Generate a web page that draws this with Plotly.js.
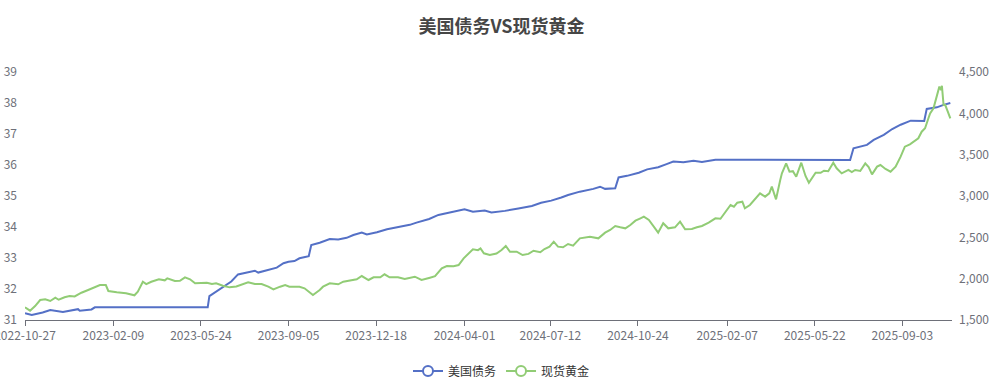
<!DOCTYPE html>
<html>
<head>
<meta charset="utf-8">
<script src="https://cdn.plot.ly/plotly-3.0.1.min.js"></script>
<style>html,body{margin:0;padding:0;background:#fff;}#chart{width:1003px;height:379px;}</style>
</head>
<body>
<div id="chart"></div>
<script>
const seriesNames = ["美国债务", "现货黄金"];
const xTickVals = ["2022-10-27","2023-02-09","2023-05-24","2023-09-05","2023-12-18","2024-04-01","2024-07-12","2024-10-24","2025-02-07","2025-05-22","2025-09-03"];
const xTickLabels = ["2022-10-27","2023-02-09","2023-05-24","2023-09-05","2023-12-18","2024-04-01","2024-07-12","2024-10-24","2025-02-07","2025-05-22","2025-09-03"];

const debtDates = ["2022-10-27","2022-11-04","2022-11-17","2022-11-26","2022-12-11","2022-12-19","2022-12-29","2022-12-31","2023-01-14","2023-01-18","2023-03-01","2023-04-15","2023-06-01","2023-06-03","2023-06-17","2023-06-29","2023-07-07","2023-07-19","2023-07-27","2023-07-31","2023-08-12","2023-08-22","2023-08-30","2023-09-05","2023-09-12","2023-09-18","2023-09-29","2023-10-02","2023-10-12","2023-10-24","2023-11-03","2023-11-13","2023-11-21","2023-12-01","2023-12-07","2023-12-19","2023-12-31","2024-01-11","2024-01-27","2024-02-04","2024-02-14","2024-02-19","2024-03-01","2024-03-17","2024-04-01","2024-04-11","2024-04-25","2024-05-03","2024-05-19","2024-06-04","2024-06-20","2024-07-01","2024-07-13","2024-07-25","2024-08-02","2024-08-16","2024-09-01","2024-09-09","2024-09-15","2024-09-27","2024-10-01","2024-10-11","2024-10-25","2024-11-04","2024-11-17","2024-11-27","2024-12-05","2024-12-17","2024-12-29","2025-01-08","2025-01-18","2025-01-24","2025-03-15","2025-05-01","2025-07-03","2025-07-07","2025-07-15","2025-07-23","2025-07-31","2025-08-12","2025-08-22","2025-09-01","2025-09-13","2025-09-25","2025-09-29","2025-10-02","2025-10-14","2025-10-22","2025-10-30"];
const debtValues = [31.22,31.16,31.24,31.32,31.26,31.30,31.35,31.30,31.34,31.41,31.41,31.41,31.41,31.77,32.02,32.24,32.47,32.54,32.59,32.53,32.61,32.69,32.83,32.88,32.90,32.99,33.06,33.42,33.49,33.61,33.60,33.65,33.74,33.82,33.76,33.83,33.93,33.99,34.07,34.14,34.23,34.26,34.39,34.49,34.57,34.49,34.53,34.47,34.52,34.60,34.68,34.78,34.85,34.95,35.03,35.14,35.23,35.30,35.23,35.25,35.60,35.65,35.75,35.86,35.93,36.03,36.11,36.09,36.14,36.10,36.15,36.17,36.17,36.16,36.16,36.54,36.59,36.65,36.81,36.97,37.16,37.30,37.43,37.42,37.42,37.81,37.86,37.94,38.00];

const goldDates = ["2022-10-27","2022-11-02","2022-11-08","2022-11-14","2022-11-20","2022-11-26","2022-12-02","2022-12-06","2022-12-13","2022-12-19","2022-12-25","2023-01-02","2023-01-10","2023-01-18","2023-01-24","2023-01-31","2023-02-03","2023-02-13","2023-02-24","2023-03-06","2023-03-10","2023-03-16","2023-03-20","2023-03-26","2023-04-04","2023-04-11","2023-04-14","2023-04-23","2023-04-29","2023-05-05","2023-05-11","2023-05-17","2023-05-25","2023-05-31","2023-06-06","2023-06-11","2023-06-19","2023-06-27","2023-07-05","2023-07-12","2023-07-19","2023-07-27","2023-08-04","2023-08-12","2023-08-18","2023-08-26","2023-09-01","2023-09-06","2023-09-18","2023-09-24","2023-10-04","2023-10-12","2023-10-16","2023-10-24","2023-11-03","2023-11-09","2023-11-17","2023-11-25","2023-12-01","2023-12-09","2023-12-15","2023-12-23","2023-12-28","2024-01-03","2024-01-13","2024-01-21","2024-02-02","2024-02-10","2024-02-20","2024-02-26","2024-03-05","2024-03-11","2024-03-19","2024-03-25","2024-03-31","2024-04-06","2024-04-11","2024-04-17","2024-04-20","2024-04-24","2024-05-01","2024-05-09","2024-05-15","2024-05-20","2024-05-25","2024-06-02","2024-06-09","2024-06-16","2024-06-22","2024-06-30","2024-07-05","2024-07-11","2024-07-16","2024-07-21","2024-07-27","2024-08-02","2024-08-08","2024-08-16","2024-08-28","2024-09-07","2024-09-15","2024-09-21","2024-09-27","2024-10-03","2024-10-09","2024-10-15","2024-10-21","2024-10-27","2024-10-31","2024-11-06","2024-11-12","2024-11-17","2024-11-23","2024-11-29","2024-12-07","2024-12-13","2024-12-19","2024-12-27","2025-01-02","2025-01-08","2025-01-16","2025-01-24","2025-01-30","2025-02-05","2025-02-11","2025-02-15","2025-02-19","2025-02-25","2025-02-28","2025-03-06","2025-03-12","2025-03-18","2025-03-24","2025-03-29","2025-04-01","2025-04-06","2025-04-11","2025-04-13","2025-04-18","2025-04-22","2025-04-26","2025-04-30","2025-05-06","2025-05-11","2025-05-15","2025-05-19","2025-05-23","2025-05-29","2025-06-02","2025-06-07","2025-06-13","2025-06-17","2025-06-23","2025-07-01","2025-07-05","2025-07-09","2025-07-15","2025-07-21","2025-07-25","2025-07-29","2025-08-04","2025-08-08","2025-08-14","2025-08-20","2025-08-26","2025-09-01","2025-09-06","2025-09-12","2025-09-16","2025-09-22","2025-09-26","2025-09-30","2025-10-04","2025-10-06","2025-10-10","2025-10-12","2025-10-14","2025-10-17","2025-10-19","2025-10-20","2025-10-22","2025-10-24","2025-10-27","2025-10-30"];
const goldValues = [1653,1613,1669,1742,1750,1730,1770,1745,1775,1790,1785,1830,1863,1903,1923,1923,1851,1835,1823,1799,1843,1963,1935,1963,1992,1980,2004,1972,1975,2016,1992,1944,1948,1951,1935,1945,1915,1895,1905,1935,1956,1935,1935,1903,1871,1903,1923,1903,1903,1883,1802,1863,1903,1944,1932,1963,1975,1992,2032,1984,2016,2016,2053,2016,2016,1996,2024,1984,2012,2030,2125,2153,2150,2165,2246,2307,2355,2345,2367,2307,2286,2305,2347,2395,2326,2326,2286,2300,2338,2320,2359,2387,2447,2387,2380,2419,2400,2488,2508,2488,2556,2589,2637,2621,2609,2649,2701,2730,2750,2710,2629,2556,2670,2609,2621,2690,2597,2600,2621,2637,2677,2730,2725,2810,2891,2870,2919,2931,2851,2891,2960,3032,2992,3032,3113,2960,3194,3274,3395,3294,3300,3234,3403,3242,3161,3214,3282,3280,3306,3300,3403,3335,3274,3315,3290,3315,3303,3395,3350,3262,3355,3375,3327,3294,3355,3476,3597,3625,3657,3698,3778,3819,3940,4000,4061,4141,4222,4323,4282,4334,4101,4100,4020,3940];

const colors = ["#5470c6", "#91cc75"];
const FONT = "'Microsoft YaHei', 'Noto Sans CJK SC', sans-serif";

const traces = [
  {x: debtDates, y: debtValues, name: seriesNames[0], type: "scatter", mode: "lines",
   line: {color: colors[0], width: 2}, yaxis: "y", showlegend: false, hoverinfo: "skip"},
  {x: goldDates, y: goldValues, name: seriesNames[1], type: "scatter", mode: "lines",
   line: {color: colors[1], width: 2}, yaxis: "y2", showlegend: false, hoverinfo: "skip"},
  {x: [null], y: [null], name: seriesNames[0], type: "scatter", mode: "lines+markers",
   line: {color: colors[0], width: 2}, marker: {symbol: "circle", size: 10, color: "#fff", line: {color: colors[0], width: 2}}, yaxis: "y"},
  {x: [null], y: [null], name: seriesNames[1], type: "scatter", mode: "lines+markers",
   line: {color: colors[1], width: 2}, marker: {symbol: "circle", size: 10, color: "#fff", line: {color: colors[1], width: 2}}, yaxis: "y2"}
];

const axisFont = {family: FONT, size: 12, color: "#6E7079"};
const layout = {
  width: 1003, height: 379,
  margin: {l: 25, r: 51, t: 72, b: 59, pad: 0},
  paper_bgcolor: "#fff", plot_bgcolor: "#fff",
  font: {family: FONT, size: 12, color: "#333"},
  title: {text: "美国债务VS现货黄金", x: 0.5, xref: "container", xanchor: "center",
          y: 1 - 27/379, yref: "container", yanchor: "middle",
          font: {family: FONT, size: 18, color: "#464646", weight: "bold"}},
  xaxis: {type: "date", range: ["2022-10-27", "2025-11-01"], tickmode: "array",
          tickvals: xTickVals, ticktext: xTickLabels, showgrid: false, zeroline: false,
          showline: true, linecolor: "#6E7079", linewidth: 1, ticks: "outside", ticklen: 5,
          tickcolor: "#6E7079", tickfont: axisFont, ticklabeloverflow: "allow", fixedrange: true},
  yaxis: {range: [31, 39], tick0: 31, dtick: 1, showgrid: false, zeroline: false, showline: false,
          ticks: "", tickfont: axisFont, ticklabelstandoff: 7, fixedrange: true},
  yaxis2: {range: [1500, 4500], tick0: 1500, dtick: 500, overlaying: "y", side: "right",
           showgrid: false, zeroline: false, showline: false, ticks: "", tickformat: ",d",
           tickfont: axisFont, ticklabelstandoff: 6, fixedrange: true},
  legend: {orientation: "h", x: 0.5, xanchor: "center", xref: "container", y: 8/379, yref: "container", yanchor: "middle",
           font: {family: FONT, size: 12, color: "#333"}, itemwidth: 30, bgcolor: "rgba(0,0,0,0)"},
  showlegend: true
};

Plotly.newPlot("chart", traces, layout, {displayModeBar: false, staticPlot: true});
</script>
</body>
</html>
